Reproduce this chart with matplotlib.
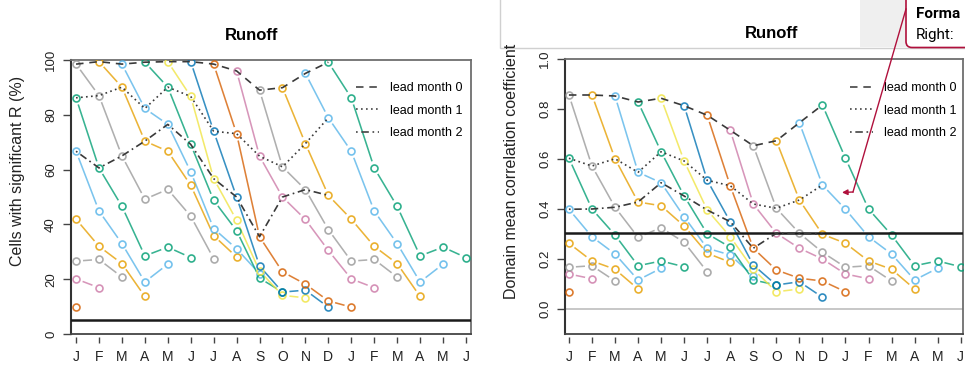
import numpy as np
import matplotlib
matplotlib.use('Agg')
import matplotlib.pyplot as plt
from matplotlib.collections import LineCollection
from matplotlib.patches import Rectangle, FancyBboxPatch, FancyArrowPatch
from matplotlib.lines import Line2D

plt.rcParams['font.family'] = ['Liberation Sans', 'DejaVu Sans']

months = ['J', 'F', 'M', 'A', 'M', 'J', 'J', 'A', 'S', 'O', 'N', 'D',
          'J', 'F', 'M', 'A', 'M', 'J']
init_colors = ['#999999', '#E69F00', '#56B4E9', '#009E73',
               '#F0E442', '#0072B2', '#D55E00', '#CC79A7']
lead_labels = ['lead month 0', 'lead month 1', 'lead month 2']

# rows: initialisation month (Jan..Dec), columns: lead month 0..6
cells_pct = np.array([
    [98.5, 87.0, 65.0, 49.2, 52.8, 43.0, 27.5],
    [99.4, 90.1, 70.4, 66.7, 54.3, 35.9, 28.1],
    [98.5, 82.3, 76.5, 59.2, 38.5, 31.1, 22.0],
    [99.2, 90.1, 69.2, 48.8, 37.7, 20.4, 15.3],
    [99.4, 86.7, 56.7, 41.5, 23.0, 14.1, 13.2],
    [99.4, 74.0, 50.0, 24.8, 15.3, 16.0, 9.8],
    [98.5, 73.1, 35.5, 22.7, 18.2, 12.1, 9.8],
    [96.0, 64.9, 50.0, 41.8, 30.5, 20.1, 16.9],
    [89.0, 61.0, 52.7, 38.1, 26.6, 27.2, 20.8],
    [89.9, 69.5, 50.6, 41.9, 32.0, 25.7, 13.7],
    [95.1, 78.9, 66.7, 44.9, 33.0, 19.0, 25.5],
    [99.2, 86.2, 60.6, 46.6, 28.5, 31.7, 27.9],
])
corr_mean = np.array([
    [0.856, 0.572, 0.407, 0.287, 0.325, 0.267, 0.149],
    [0.856, 0.601, 0.428, 0.413, 0.332, 0.223, 0.187],
    [0.852, 0.547, 0.505, 0.369, 0.243, 0.216, 0.132],
    [0.828, 0.629, 0.452, 0.301, 0.247, 0.116, 0.096],
    [0.843, 0.592, 0.396, 0.289, 0.159, 0.069, 0.080],
    [0.813, 0.515, 0.349, 0.176, 0.096, 0.109, 0.047],
    [0.775, 0.493, 0.243, 0.156, 0.123, 0.112, 0.069],
    [0.715, 0.420, 0.303, 0.243, 0.200, 0.140, 0.121],
    [0.653, 0.403, 0.303, 0.227, 0.167, 0.173, 0.112],
    [0.673, 0.436, 0.299, 0.263, 0.192, 0.159, 0.080],
    [0.745, 0.496, 0.399, 0.289, 0.220, 0.116, 0.163],
    [0.816, 0.603, 0.400, 0.296, 0.173, 0.192, 0.169],
])
cells_sig = 5.0
corr_sig = 0.305

lead_styles = [(0, (4.5, 3.5)), (0, (1.0, 2.0)), (0, (1.0, 2.2, 4.5, 2.2))]


def gapped(ax, xs, ys, r=7.0):
    # like R type="b": segments stop short of the points
    tr = ax.transData
    pts = tr.transform(np.column_stack([xs, ys]))
    segs = []
    for p, q in zip(pts[:-1], pts[1:]):
        d = q - p
        L = np.hypot(*d)
        if L > 2 * r:
            u = d / L
            segs.append(tr.inverted().transform(np.array([p + u * r, q - u * r])))
    return segs


def panel(ax, vals, xlim, ylim, yticks, ylabels, sig, zero_line=False):
    ax.set_xlim(*xlim)
    ax.set_ylim(*ylim)
    nlead = vals.shape[1]
    leads = np.arange(nlead)
    for i in range(12):
        col = init_colors[i % 8]
        for shift in (0, -12):
            if shift and i < 6:
                continue
            xs = i + 1 + shift + leads
            keep = xs >= 1
            xs, ys = xs[keep], vals[i][keep]
            if len(xs) > 1:
                lc = LineCollection(gapped(ax, xs, ys), colors=col, alpha=0.78,
                                    linewidths=1.15, zorder=2)
                ax.add_collection(lc)
            ax.plot(xs, ys, 'o', ms=5, mfc='none', mec=col, mew=1.2,
                    alpha=0.82, zorder=3)
    if zero_line:
        ax.axhline(0, color='#bdbdbd', lw=1.2, zorder=1)
    ax.axhline(sig, color='#1a1a1a', lw=1.8, zorder=4)
    target = np.arange(1, 13)
    for k in range(3):
        idx = (target - 1 - k) % 12
        ax.plot(target, vals[idx, k], color='#3a3a3a', lw=1.2,
                linestyle=lead_styles[k], zorder=5)
    ax.set_xticks(np.arange(1, 19), months)
    ax.set_yticks(yticks, ylabels)
    ax.tick_params(axis='y', labelrotation=90, length=5.5, width=1.0,
                   color='#444444', labelsize=9.5, pad=4.5, labelcolor='#222222')
    ax.tick_params(axis='x', length=4.5, width=1.0, color='#444444',
                   labelsize=10, pad=5, labelcolor='#222222')
    for lab in ax.get_yticklabels():
        lab.set_va('center')
    for s in ('top', 'right'):
        ax.spines[s].set_color('#6e6e6e')
        ax.spines[s].set_linewidth(1.3)
    ax.spines['left'].set_color('#333333')
    ax.spines['left'].set_linewidth(1.5)
    ax.spines['bottom'].set_position(('outward', 2.2))
    ax.spines['bottom'].set_visible(False)
    ax.axhline(ylim[0], color='#444444', lw=1.3, clip_on=False, zorder=6)


fig = plt.figure(figsize=(9.65, 3.68), dpi=100)

# screenshot overlay at the top right
fig.add_artist(Rectangle((500 / 965, 1 - 47.5 / 368), 0.6, 0.2,
                         transform=fig.transFigure, facecolor='white',
                         edgecolor='#d0d0d0', lw=1.0, zorder=0))
fig.add_artist(Rectangle((860 / 965, 1 - 47 / 368), 0.2, 0.2,
                         transform=fig.transFigure, facecolor='#efefef',
                         edgecolor='none', zorder=0))

ax1 = fig.add_axes([71 / 965, 34 / 368, 400 / 965, 274 / 368])
ax2 = fig.add_axes([565 / 965, 34 / 368, 398 / 965, 275 / 368])

panel(ax1, cells_pct, (0.78, 18.22), (0, 100), np.arange(0, 101, 20),
      [str(v) for v in range(0, 101, 20)], cells_sig)
panel(ax2, corr_mean, (0.83, 18.1), (-0.1, 1.0), np.arange(0, 1.01, 0.2),
      ['%.1f' % v for v in np.arange(0, 1.01, 0.2)], corr_sig, zero_line=True)

fig.text(252 / 965, 1 - 35 / 368, 'Runoff', ha='center', va='center',
         fontsize=12, fontweight='bold')
fig.text(772 / 965, 1 - 34 / 368, 'Runoff', ha='center', va='center',
         fontsize=12, fontweight='bold')
fig.text(18 / 965, 197 / 368, 'Cells with significant R (%)', rotation=90,
         ha='center', va='center', fontsize=11.5, color='#222222')
fig.text(511 / 965, 197 / 368, 'Domain mean correlation coefficient',
         rotation=90, ha='center', va='center', fontsize=11.5, color='#222222')

handles = [Line2D([], [], color='#444444', lw=1.2, linestyle=s) for s in lead_styles]
for ax, x0 in ((ax1, 356), (ax2, 850)):
    ax.legend(handles, lead_labels, loc='upper left',
              bbox_to_anchor=(x0 / 965, 1 - 82 / 368),
              bbox_transform=fig.transFigure, frameon=False, fontsize=9,
              handlelength=1.85, handletextpad=0.85, labelspacing=0.85,
              borderpad=0, borderaxespad=0)

# callout box and arrow from the screenshot
fig.add_artist(FancyBboxPatch((9.06, 3.205), 1.2, 0.8,
                              boxstyle='round,pad=0,rounding_size=0.06',
                              transform=fig.dpi_scale_trans, facecolor='white',
                              edgecolor='#b0103c', lw=1.2, zorder=8))
fig.text(916 / 965, 1 - 14 / 368, 'Forma', ha='left', va='center',
         fontsize=11, fontweight='bold', family=['Roboto', 'DejaVu Sans'], zorder=9)
fig.text(916 / 965, 1 - 35 / 368, 'Right:', ha='left', va='center',
         fontsize=11, family=['Roboto', 'DejaVu Sans'], zorder=9)
fig.add_artist(Line2D([9.06, 8.53], [(368 - 9) / 100, (368 - 192) / 100],
                      transform=fig.dpi_scale_trans, color='#b0103c', lw=1.0,
                      zorder=9))
fig.add_artist(FancyArrowPatch((8.53, (368 - 192) / 100), (8.42, (368 - 192.5) / 100),
                               transform=fig.dpi_scale_trans, arrowstyle='-|>',
                               mutation_scale=8, color='#b0103c', lw=1.0,
                               shrinkA=0, shrinkB=0, zorder=9))

fig.savefig('out.png', dpi=100)
